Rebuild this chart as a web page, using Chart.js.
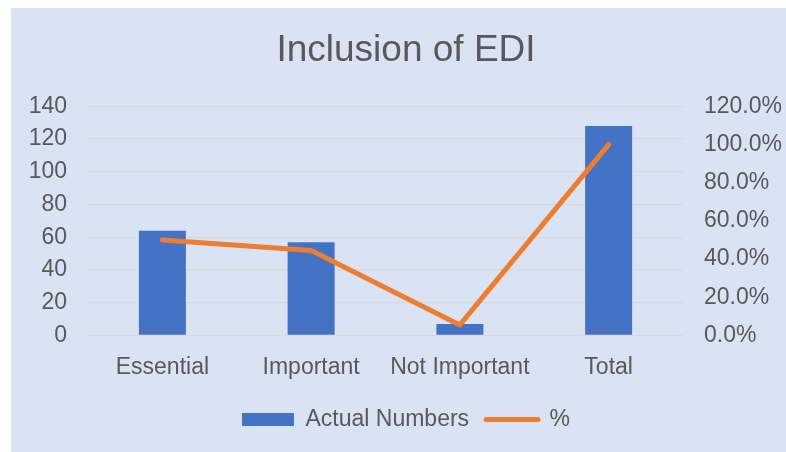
<!DOCTYPE html>
<html>
<head>
<meta charset="utf-8">
<script src="https://cdn.jsdelivr.net/npm/chart.js@4/dist/chart.umd.min.js"></script>
<style>
  html, body { margin: 0; padding: 0; background: #ffffff; overflow: hidden; }
  #box {
    position: absolute;
    left: 11px;
    top: 8px;
    width: 790px;
    height: 444px;
    background: #dae3f3;
  }
</style>
</head>
<body>
<div id="box"><canvas id="ediChart"></canvas></div>
<script>
// categories and series
var categories = ["Essential", "Important", "Not Important", "Total"];
var actualNumbers = [64, 57, 7, 128];
var percentShare = [50.0, 44.5, 5.5, 100.0];

var textColor = "#595959";
var fontFamily = "'Liberation Sans', Arial, sans-serif";

Chart.defaults.font.family = fontFamily;
Chart.defaults.color = textColor;

var ediChart = new Chart(document.getElementById("ediChart"), {
    type: "bar",
    data: {
        labels: categories,
        datasets: [{
                label: "Actual Numbers",
                data: actualNumbers,
                backgroundColor: "#4472c4",
                barPercentage: 0.316,
                categoryPercentage: 1,
                yAxisID: "y",
                order: 2
            }, {
                type: "line",
                label: "%",
                data: percentShare,
                borderColor: "#ed7d31",
                backgroundColor: "#ed7d31",
                borderWidth: 5,
                borderCapStyle: "round",
                borderJoinStyle: "round",
                pointRadius: 0,
                tension: 0,
                yAxisID: "y1",
                order: 1
            }]
    },
    options: {
        responsive: true,
        maintainAspectRatio: false,
        animation: false,
        layout: {
            padding: { left: 0, right: 0, top: 0, bottom: 11 }
        },
        plugins: {
            title: {
                display: true,
                text: "Inclusion of EDI",
                color: textColor,
                font: { size: 37, weight: "normal" },
                padding: { top: 21, bottom: 33 }
            },
            legend: {
                position: "bottom",
                labels: {
                    color: textColor,
                    font: { size: 23 },
                    usePointStyle: true,
                    pointStyleWidth: 52,
                    boxHeight: 13,
                    padding: 17,
                    generateLabels: function (chart) {
                        return [{
                                text: "Actual Numbers",
                                fillStyle: "#4472c4",
                                strokeStyle: "#4472c4",
                                lineWidth: 0,
                                pointStyle: "rect",
                                fontColor: textColor,
                                datasetIndex: 0
                            }, {
                                text: "%",
                                fillStyle: "#ed7d31",
                                strokeStyle: "#ed7d31",
                                lineWidth: 5,
                                lineCap: "round",
                                pointStyle: "line",
                                fontColor: textColor,
                                datasetIndex: 1
                            }];
                    }
                }
            },
            tooltip: { enabled: false }
        },
        scales: {
            x: {
                grid: { display: false },
                border: { display: false },
                ticks: {
                    color: textColor,
                    font: { size: 23 },
                    padding: 10,
                    autoSkip: false,
                    maxRotation: 0,
                    minRotation: 0
                }
            },
            y: {
                position: "left",
                min: 0,
                max: 140,
                grid: { color: "#d9d9d9", lineWidth: 1.3, drawTicks: false },
                border: { display: false },
                ticks: { stepSize: 20, autoSkip: false, color: textColor, font: { size: 23 }, padding: 21 },
                afterFit: function (scale) { scale.width = 77; }
            },
            y1: {
                position: "right",
                min: 0,
                max: 120,
                grid: { display: false, drawTicks: false },
                border: { display: false },
                ticks: {
                    stepSize: 20,
                    autoSkip: false,
                    color: textColor,
                    font: { size: 23 },
                    padding: 21,
                    callback: function (v) { return v.toFixed(1) + "%"; }
                },
                afterFit: function (scale) { scale.width = 118; }
            }
        }
    }
});
</script>
</body>
</html>
